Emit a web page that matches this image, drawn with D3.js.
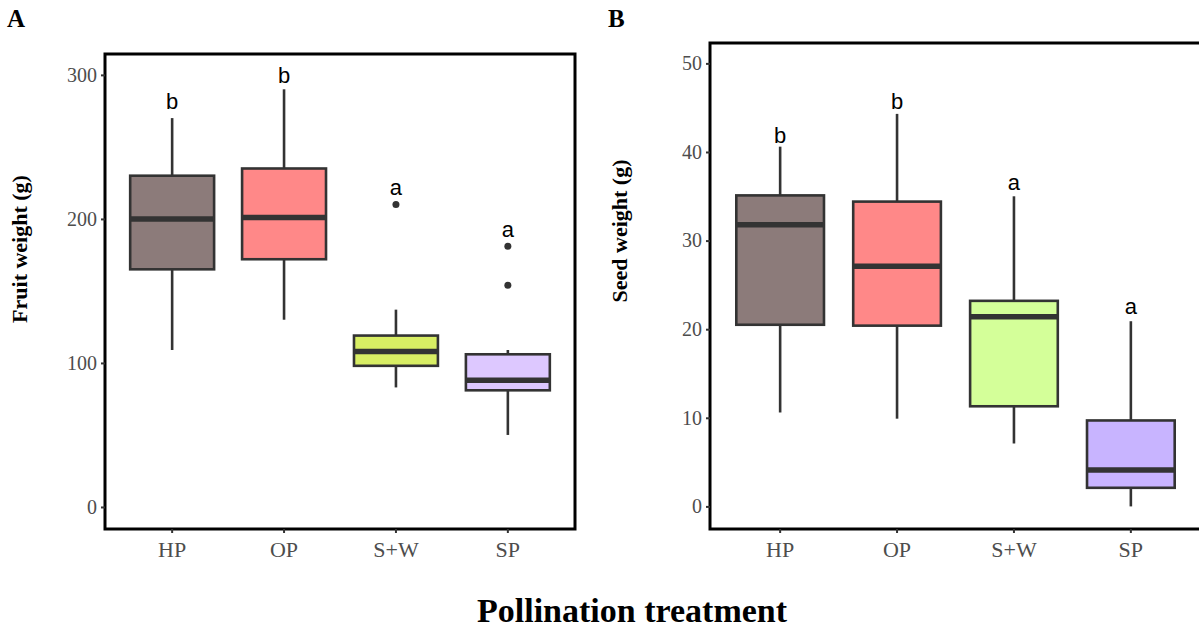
<!DOCTYPE html>
<html>
<head>
<meta charset="utf-8">
<script src="https://cdn.jsdelivr.net/npm/d3@7"></script>
<style>
  body { margin: 0; background: #fff; }
  svg { display: block; }
</style>
</head>
<body>
<svg id="chart" width="1199" height="634"></svg>
<script>

// treatments and box colours
var treatments = ["HP", "OP", "S+W", "SP"];
var fruitColors = ["#8C7B7A", "#FF8888", "#D8EE64", "#DDC8FF"];
var seedColors = ["#8C7B7A", "#FF8888", "#D4FF99", "#C8B4FF"];

// fruit weight (g): lower whisker, q1, median, q3, upper whisker
var fruitLow = [109, 130, 83, 50];
var fruitQ1 = [165, 172, 98, 81];
var fruitMed = [200, 201, 108, 88];
var fruitQ3 = [230, 235, 119, 106];
var fruitHigh = [270, 290, 137, 109];
var fruitOutliers = [[], [], [210], [181, 154]];
var fruitLetters = ["b", "b", "a", "a"];
var fruitLetterY = [282, 300, 222, 193];
var fruitTicks = [0, 100, 200, 300];

// seed weight (g)
var seedLow = [10.6, 9.9, 7.1, 0];
var seedQ1 = [20.5, 20.4, 11.3, 2.1];
var seedMed = [31.8, 27.1, 21.4, 4.1];
var seedQ3 = [35.1, 34.4, 23.2, 9.7];
var seedHigh = [40.6, 44.3, 35.0, 20.9];
var seedOutliers = [[], [], [], []];
var seedLetters = ["b", "b", "a", "a"];
var seedLetterY = [41.9, 45.7, 36.6, 22.6];
var seedTicks = [0, 10, 20, 30, 40, 50];

var svg = d3.select("#chart");

function panel(opt) {
  var g = svg.append("g");

  var x = d3.scaleBand()
      .domain(treatments)
      .range([opt.left, opt.right])
      .paddingOuter(0.1)
      .paddingInner(0);

  var y = d3.scaleLinear()
      .domain(opt.yDomain)
      .range([opt.bottom, opt.top]);

  var step = x.step(),
      boxW = step * 0.75;
  var cx = function(d) { return x(d) + x.bandwidth() / 2; };

  // frame
  g.append("rect")
      .attr("x", opt.left)
      .attr("y", opt.top)
      .attr("width", opt.right - opt.left)
      .attr("height", opt.bottom - opt.top)
      .attr("fill", "none")
      .attr("stroke", "#000")
      .attr("stroke-width", 3);

  // axes
  var ya = g.append("g")
      .attr("transform", "translate(" + opt.left + ",0)")
      .call(d3.axisLeft(y).tickValues(opt.ticks).tickSize(4).tickPadding(4));
  ya.select(".domain").remove();
  ya.selectAll("line").attr("stroke", "#333").attr("stroke-width", 2);
  ya.selectAll("text")
      .attr("fill", "#4d4d4d")
      .style("font-family", "'Liberation Serif', 'Times New Roman', serif")
      .style("font-size", "20px");

  var xa = g.append("g")
      .attr("transform", "translate(0," + opt.bottom + ")")
      .call(d3.axisBottom(x).tickSize(4).tickPadding(8));
  xa.select(".domain").remove();
  xa.selectAll("line").attr("stroke", "#333").attr("stroke-width", 2);
  xa.selectAll("text")
      .attr("fill", "#4d4d4d")
      .style("font-family", "'Liberation Serif', 'Times New Roman', serif")
      .style("font-size", "22px");

  var rows = treatments.map(function(t, i) {
    return { t: t, lo: opt.low[i], q1: opt.q1[i], med: opt.med[i], q3: opt.q3[i],
             hi: opt.high[i], out: opt.outliers[i], color: opt.colors[i],
             letter: opt.letters[i], ly: opt.letterY[i] };
  });

  var box = g.selectAll(".box").data(rows).enter().append("g").attr("class", "box");

  box.append("line")
      .attr("x1", function(d) { return cx(d.t); })
      .attr("x2", function(d) { return cx(d.t); })
      .attr("y1", function(d) { return y(d.hi); })
      .attr("y2", function(d) { return y(d.q3); })
      .attr("stroke", "#333").attr("stroke-width", 2.6);

  box.append("line")
      .attr("x1", function(d) { return cx(d.t); })
      .attr("x2", function(d) { return cx(d.t); })
      .attr("y1", function(d) { return y(d.q1); })
      .attr("y2", function(d) { return y(d.lo); })
      .attr("stroke", "#333").attr("stroke-width", 2.6);

  box.append("rect")
      .attr("x", function(d) { return cx(d.t) - boxW / 2; })
      .attr("width", boxW)
      .attr("y", function(d) { return y(d.q3); })
      .attr("height", function(d) { return y(d.q1) - y(d.q3); })
      .attr("fill", function(d) { return d.color; })
      .attr("stroke", "#333")
      .attr("stroke-width", 2.6);

  box.append("line")
      .attr("x1", function(d) { return cx(d.t) - boxW / 2; })
      .attr("x2", function(d) { return cx(d.t) + boxW / 2; })
      .attr("y1", function(d) { return y(d.med); })
      .attr("y2", function(d) { return y(d.med); })
      .attr("stroke", "#333").attr("stroke-width", 5.5);

  box.selectAll("circle")
      .data(function(d) { return d.out.map(function(v) { return { t: d.t, v: v }; }); })
      .enter().append("circle")
      .attr("cx", function(d) { return cx(d.t); })
      .attr("cy", function(d) { return y(d.v); })
      .attr("r", 3.5)
      .attr("fill", "#333");

  box.append("text")
      .attr("x", function(d) { return cx(d.t); })
      .attr("y", function(d) { return y(d.ly); })
      .attr("dy", "0.35em")
      .attr("text-anchor", "middle")
      .style("font-family", "'Liberation Sans', Arial, sans-serif")
      .style("font-size", "22px")
      .attr("fill", "#000")
      .text(function(d) { return d.letter; });

  // y title
  g.append("text")
      .attr("transform", "translate(" + opt.titleX + "," + opt.titleY + ") rotate(-90)")
      .attr("text-anchor", "middle")
      .style("font-family", "'Liberation Serif', 'Times New Roman', serif")
      .style("font-weight", "bold")
      .style("font-size", "22px")
      .text(opt.yTitle);

  // panel letter
  svg.append("text")
      .attr("x", opt.tagX)
      .attr("y", 27)
      .style("font-family", "'Liberation Serif', 'Times New Roman', serif")
      .style("font-weight", "bold")
      .style("font-size", "25px")
      .text(opt.tag);
}

panel({
  left: 105, right: 575, top: 54, bottom: 529,
  yDomain: [-15.3, 314.5], ticks: fruitTicks,
  low: fruitLow, q1: fruitQ1, med: fruitMed, q3: fruitQ3, high: fruitHigh,
  outliers: fruitOutliers, colors: fruitColors,
  letters: fruitLetters, letterY: fruitLetterY,
  yTitle: "Fruit weight (g)", titleX: 27, titleY: 249, tag: "A", tagX: 7
});

panel({
  left: 710, right: 1201, top: 43, bottom: 529,
  yDomain: [-2.55, 52.3], ticks: seedTicks,
  low: seedLow, q1: seedQ1, med: seedMed, q3: seedQ3, high: seedHigh,
  outliers: seedOutliers, colors: seedColors,
  letters: seedLetters, letterY: seedLetterY,
  yTitle: "Seed weight (g)", titleX: 627, titleY: 231, tag: "B", tagX: 608
});

svg.append("text")
    .attr("x", 632)
    .attr("y", 622)
    .attr("text-anchor", "middle")
    .style("font-family", "'Liberation Serif', 'Times New Roman', serif")
    .style("font-weight", "bold")
    .style("font-size", "34px")
    .text("Pollination treatment");

</script>
</body>
</html>
